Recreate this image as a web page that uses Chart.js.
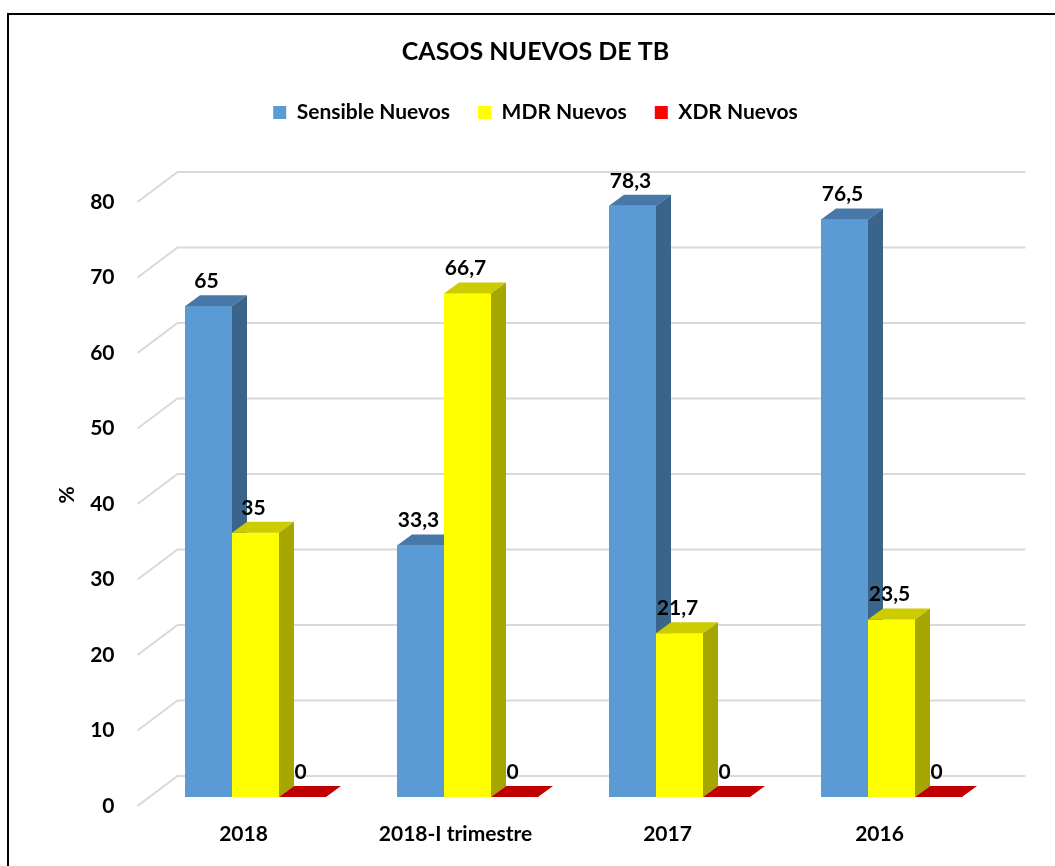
<!DOCTYPE html>
<html lang="es">
<head>
<meta charset="UTF-8">
<title>Casos nuevos de TB</title>
<script src="https://cdn.jsdelivr.net/npm/chart.js"></script>
<style>
  body, html {
    margin: 0;
    padding: 0;
    background: #fff;
    overflow: hidden;
  }
  #frame {
    position: absolute;
    left: 7px;
    top: 13px;
    width: 1100px;
    height: 900px;
    border: 2px solid #000;
  }
  #chart-box {
    position: absolute;
    left: 0;
    top: 0;
    width: 1055px;
    height: 866px;
  }
</style>
</head>
<body>
<div id="frame"></div>
<div id="chart-box"><canvas id="tb" width="1055" height="866"></canvas></div>
<script>
const categories = ['2018', '2018-I trimestre', '2017', '2016'];
const sensibleNuevos = [65, 33.3, 78.3, 76.5];
const mdrNuevos = [35, 66.7, 21.7, 23.5];
const xdrNuevos = [0, 0, 0, 0];
const yMin = 0, yMax = 80, yStep = 10;

// fake 3d: depth of a bar, back wall and front (label) plane offsets
const DEPTH = {x: 15, y: 11};
const WALL = {x: 28, y: 21};
const FRONT = {x: -12, y: 9};

Chart.defaults.font.family = 'Lato, "DejaVu Sans", sans-serif';
Chart.defaults.font.weight = 'bold';
Chart.defaults.color = '#000';

function poly(ctx, pts) {
    ctx.beginPath();
    ctx.moveTo(pts[0][0], pts[0][1]);
    for (let k = 1; k < pts.length; k++) ctx.lineTo(pts[k][0], pts[k][1]);
    ctx.closePath();
    ctx.fill();
}

// leave the empty band between legend and plot
const legendSpace = {
    id: 'legendSpace',
    beforeLayout(chart) {
        const lg = chart.legend;
        if (lg && !lg._patched) {
            const fit = lg.fit;
            lg.fit = function () {
                fit.call(this);
                this.height = 119;
            };
            lg._patched = true;
        }
    }
};

const wall = {
    id: 'wall',
    beforeDatasetsDraw(chart) {
        const {ctx, chartArea, scales: {y}} = chart;
        ctx.save();
        ctx.strokeStyle = '#D9D9D9';
        ctx.lineWidth = 2;
        y.ticks.forEach(t => {
            const py = y.getPixelForValue(t.value);
            ctx.beginPath();
            ctx.moveTo(chartArea.left + FRONT.x, py + FRONT.y);
            ctx.lineTo(chartArea.left + WALL.x, py - WALL.y);
            ctx.lineTo(chartArea.right + WALL.x, py - WALL.y);
            ctx.stroke();
        });
        ctx.restore();
    }
};

const bars3d = {
    id: 'bars3d',
    afterDatasetsDraw(chart) {
        const {ctx} = chart;
        const labels = [];
        ctx.save();
        for (let j = 0; j < chart.data.labels.length; j++) {
            chart.data.datasets.forEach((ds, i) => {
                const el = chart.getDatasetMeta(i).data[j];
                const {x, y, base, width} = el.getProps(['x', 'y', 'base', 'width'], true);
                const l = x - width / 2, r = x + width / 2;
                ctx.fillStyle = ds.backgroundColor;
                if (base - y > 0) ctx.fillRect(l, y, width, base - y);
                ctx.fillStyle = ds.topColor;
                poly(ctx, [[l, y], [r, y], [r + DEPTH.x, y - DEPTH.y], [l + DEPTH.x, y - DEPTH.y]]);
                ctx.fillStyle = ds.sideColor;
                poly(ctx, [[r, y], [r + DEPTH.x, y - DEPTH.y], [r + DEPTH.x, base - DEPTH.y], [r, base]]);
                labels.push({x: x - 2, y: y - 25, text: String(ds.data[j]).replace('.', ',')});
            });
        }
        ctx.fillStyle = '#000';
        ctx.font = 'bold 21px Lato, "DejaVu Sans", sans-serif';
        ctx.textAlign = 'center';
        ctx.textBaseline = 'middle';
        labels.forEach(lb => ctx.fillText(lb.text, lb.x, lb.y));
        ctx.restore();
    }
};

new Chart(document.getElementById('tb'), {
    type: 'bar',
    data: {
        labels: categories,
        datasets: [
            {label: 'Sensible Nuevos', data: sensibleNuevos, backgroundColor: '#5B9BD5', topColor: '#4878A7', sideColor: '#3A6489'},
            {label: 'MDR Nuevos', data: mdrNuevos, backgroundColor: '#FFFF00', topColor: '#CCCC00', sideColor: '#A6A600'},
            {label: 'XDR Nuevos', data: xdrNuevos, backgroundColor: '#FF0000', topColor: '#C00000', sideColor: '#990000'}
        ]
    },
    options: {
        responsive: false,
        animation: false,
        categoryPercentage: 0.665,
        barPercentage: 1,
        layout: {padding: {top: 8, left: 73.5, right: 57.5, bottom: 0}},
        plugins: {
            title: {
                display: true,
                text: 'CASOS NUEVOS DE TB',
                font: {size: 25, weight: 'bold'},
                color: '#000',
                padding: {top: 29, bottom: 7}
            },
            legend: {
                labels: {
                    boxWidth: 13,
                    boxHeight: 13,
                    padding: 28,
                    font: {size: 21, weight: 'bold'},
                    color: '#000'
                }
            },
            tooltip: {enabled: false}
        },
        scales: {
            x: {
                grid: {display: false, drawTicks: false},
                border: {display: false},
                ticks: {padding: 25, labelOffset: FRONT.x, maxRotation: 0, font: {size: 21, weight: 'bold'}},
                afterFit: s => { s.height = 69; }
            },
            y: {
                min: yMin,
                max: yMax,
                grid: {display: false, drawTicks: false},
                border: {display: false},
                ticks: {stepSize: yStep, padding: 35, labelOffset: FRONT.y, font: {size: 21, weight: 'bold'}},
                title: {display: true, text: '%', font: {size: 21, weight: 'bold'}, padding: {top: -19, bottom: 0}},
                afterFit: s => { s.width = 76; }
            }
        }
    },
    plugins: [legendSpace, wall, bars3d]
});
</script>
</body>
</html>
